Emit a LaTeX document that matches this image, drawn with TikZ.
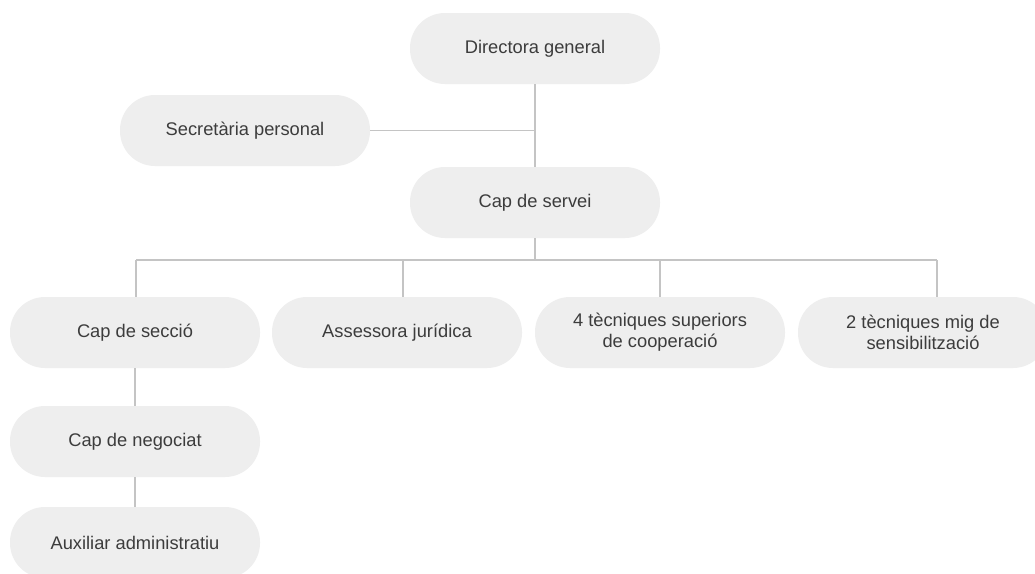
\documentclass[tikz,border=0pt]{standalone}
\usepackage{fontspec}
\setmainfont{Liberation Sans}
\definecolor{boxfill}{HTML}{EEEEEE}
\definecolor{txt}{HTML}{3C3C3C}
\definecolor{linec}{HTML}{C4C4C4}
\begin{document}
\begin{tikzpicture}[x=1pt,y=-1pt,
  pill/.style={fill=boxfill, rounded corners=35pt, minimum width=250pt, minimum height=71pt,
    text=txt, font=\fontsize{18.3}{21}\selectfont, align=center, inner sep=0pt},
  conn/.style={draw=linec, line width=1.4pt}]
\useasboundingbox (0,0) rectangle (1035,573);
\fill[white] (0,0) rectangle (1035,573);
\clip (0,0) rectangle (1035,573);
\node[pill] (dir) at (535,48.5) {Directora general};
\node[pill] (sec) at (245,130.5) {Secretària personal};
\node[pill] (serv) at (535,202.5) {Cap de servei};
\node[pill] (csec) at (135,332.5) {Cap de secció};
\node[pill] (ass) at (397,332.5) {Assessora jurídica};
\node[pill] (tec4) at (660,332.5) {4 tècniques superiors\\de cooperació};
\node[pill] (tec2) at (923,332.5) {2 tècniques mig de\\sensibilització};
\node[pill] (neg) at (135,441.5) {Cap de negociat};
\node[pill] (aux) at (135,542.5) {Auxiliar administratiu};
\coordinate (b1) at (136,260);
\coordinate (b2) at (403,260);
\coordinate (b3) at (660,260);
\coordinate (b4) at (937,260);
\draw[conn] (dir.south) -- (serv.north);
\draw[conn] (sec.east) -- (sec.east -| dir.south);
\draw[conn] (serv.south) -- (serv.south |- b1);
\draw[conn] (b1) -- (b4);
\draw[conn] (b1) -- (b1 |- csec.north);
\draw[conn] (b2) -- (b2 |- ass.north);
\draw[conn] (b3) -- (b3 |- tec4.north);
\draw[conn] (b4) -- (b4 |- tec2.north);
\draw[conn] (csec.south) -- (neg.north);
\draw[conn] (neg.south) -- (aux.north);
\end{tikzpicture}
\end{document}
